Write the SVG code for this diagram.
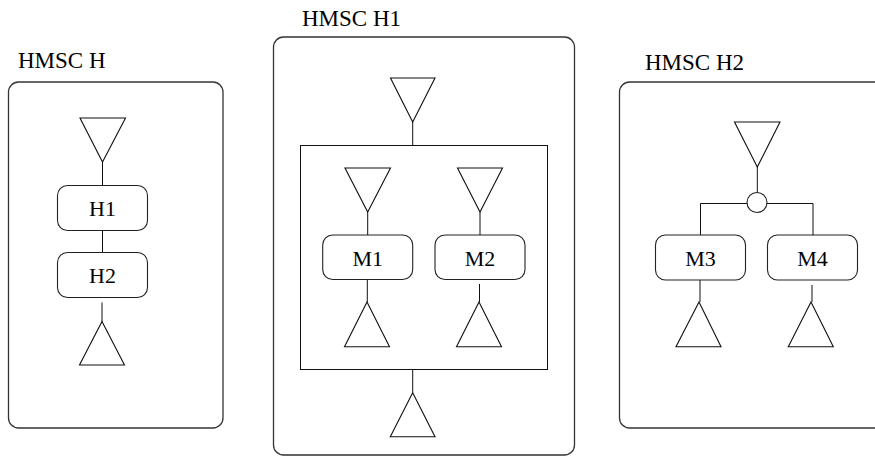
<svg xmlns="http://www.w3.org/2000/svg" width="875" height="456" viewBox="0 0 875 456">
  <style>
    .frame { fill: none; stroke: #333; stroke-width: 1.3; }
    .box { fill: #fff; stroke: #222; stroke-width: 1.1; }
    .tri { fill: #fff; stroke: #111; stroke-width: 1.1; stroke-linejoin: miter; }
    .conn { fill: none; stroke: #111; stroke-width: 1; }
    .title, .label { font-family: "Times New Roman", "Liberation Serif", Tinos, "DejaVu Serif", serif; fill: #000; }
    .title { font-size: 23px; }
    .label { font-size: 22px; text-anchor: middle; }
  </style>

  <!-- HMSC H -->
  <g id="hmsc-h">
    <rect class="frame" x="8.5" y="82" width="214.5" height="346" rx="10"/>
    <text class="title" x="18" y="68">HMSC H</text>
  </g>
  <g id="h-start"><polygon class="tri" points="80,118 125.5,118 102.5,162"/></g>
  <g id="h-ref-h1">
    <rect class="box" x="57.5" y="185.5" width="90" height="45" rx="10"/>
    <text class="label" x="102.5" y="216">H1</text>
  </g>
  <g id="h-ref-h2">
    <rect class="box" x="57.5" y="252.5" width="90" height="45" rx="10"/>
    <text class="label" x="102.5" y="283">H2</text>
  </g>
  <g id="h-end"><polygon class="tri" points="102,321.5 124.5,365 79.5,365"/></g>

  <!-- HMSC H1 -->
  <g id="hmsc-h1">
    <rect class="frame" x="273.5" y="37" width="301" height="418" rx="10"/>
    <text class="title" x="302" y="26">HMSC H1</text>
  </g>
  <g id="h1-start"><polygon class="tri" points="390.5,78 435,78 412.7,122"/></g>
  <g id="h1-par"><rect class="conn" x="300.5" y="145.5" width="247" height="224"/></g>
  <g id="h1-m1-start"><polygon class="tri" points="345,168 390.5,168 367.7,212"/></g>
  <g id="h1-m1">
    <rect class="box" x="322.7" y="235" width="90" height="44.5" rx="10"/>
    <text class="label" x="367.7" y="265.5">M1</text>
  </g>
  <g id="h1-m1-end"><polygon class="tri" points="367,302 389.5,346.7 344.5,346.7"/></g>
  <g id="h1-m2-start"><polygon class="tri" points="457.5,168 502.5,168 480,212"/></g>
  <g id="h1-m2">
    <rect class="box" x="435" y="235" width="90" height="44.5" rx="10"/>
    <text class="label" x="480" y="265.5">M2</text>
  </g>
  <g id="h1-m2-end"><polygon class="tri" points="479,302 501.5,346.7 456.5,346.7"/></g>
  <g id="h1-end"><polygon class="tri" points="412.7,392.7 435,436.7 390.3,436.7"/></g>

  <!-- HMSC H2 -->
  <g id="hmsc-h2">
    <rect class="frame" x="619.5" y="82" width="275" height="346" rx="10"/>
    <text class="title" x="645" y="70">HMSC H2</text>
  </g>
  <g id="h2-start"><polygon class="tri" points="734.5,122 780,122 757.3,167"/></g>
  <g id="h2-alt"><circle class="box" cx="757" cy="202.5" r="10"/></g>
  <g id="h2-m3">
    <rect class="box" x="655.5" y="235" width="90" height="45" rx="10"/>
    <text class="label" x="700.5" y="266">M3</text>
  </g>
  <g id="h2-m4">
    <rect class="box" x="767.5" y="235" width="90" height="45" rx="10"/>
    <text class="label" x="812.5" y="266">M4</text>
  </g>
  <g id="h2-m3-end"><polygon class="tri" points="699,302 721,346.7 676,346.7"/></g>
  <g id="h2-m4-end"><polygon class="tri" points="811,302 833.3,346.7 788.3,346.7"/></g>

  <!-- connectors -->
  <g id="connectors" class="conn">
    <line x1="102.5" y1="162" x2="102.5" y2="185.5"/>
    <line x1="102.5" y1="230.5" x2="102.5" y2="252.5"/>
    <line x1="102" y1="302.5" x2="102" y2="321.5"/>

    <line x1="412.7" y1="122" x2="412.7" y2="145.5"/>
    <line x1="367.7" y1="212" x2="367.7" y2="235"/>
    <line x1="367.3" y1="279.5" x2="367.3" y2="302"/>
    <line x1="480" y1="212" x2="480" y2="235"/>
    <line x1="479.5" y1="284" x2="479.5" y2="302"/>
    <line x1="412.7" y1="369.5" x2="412.7" y2="392.7"/>

    <line x1="757.3" y1="167" x2="757.3" y2="192.5"/>
    <polyline points="747,203.5 700.5,203.5 700.5,235"/>
    <polyline points="767,203.5 813,203.5 813,235"/>
    <line x1="700" y1="280" x2="700" y2="302"/>
    <line x1="812" y1="285" x2="812" y2="302"/>
  </g>
</svg>
